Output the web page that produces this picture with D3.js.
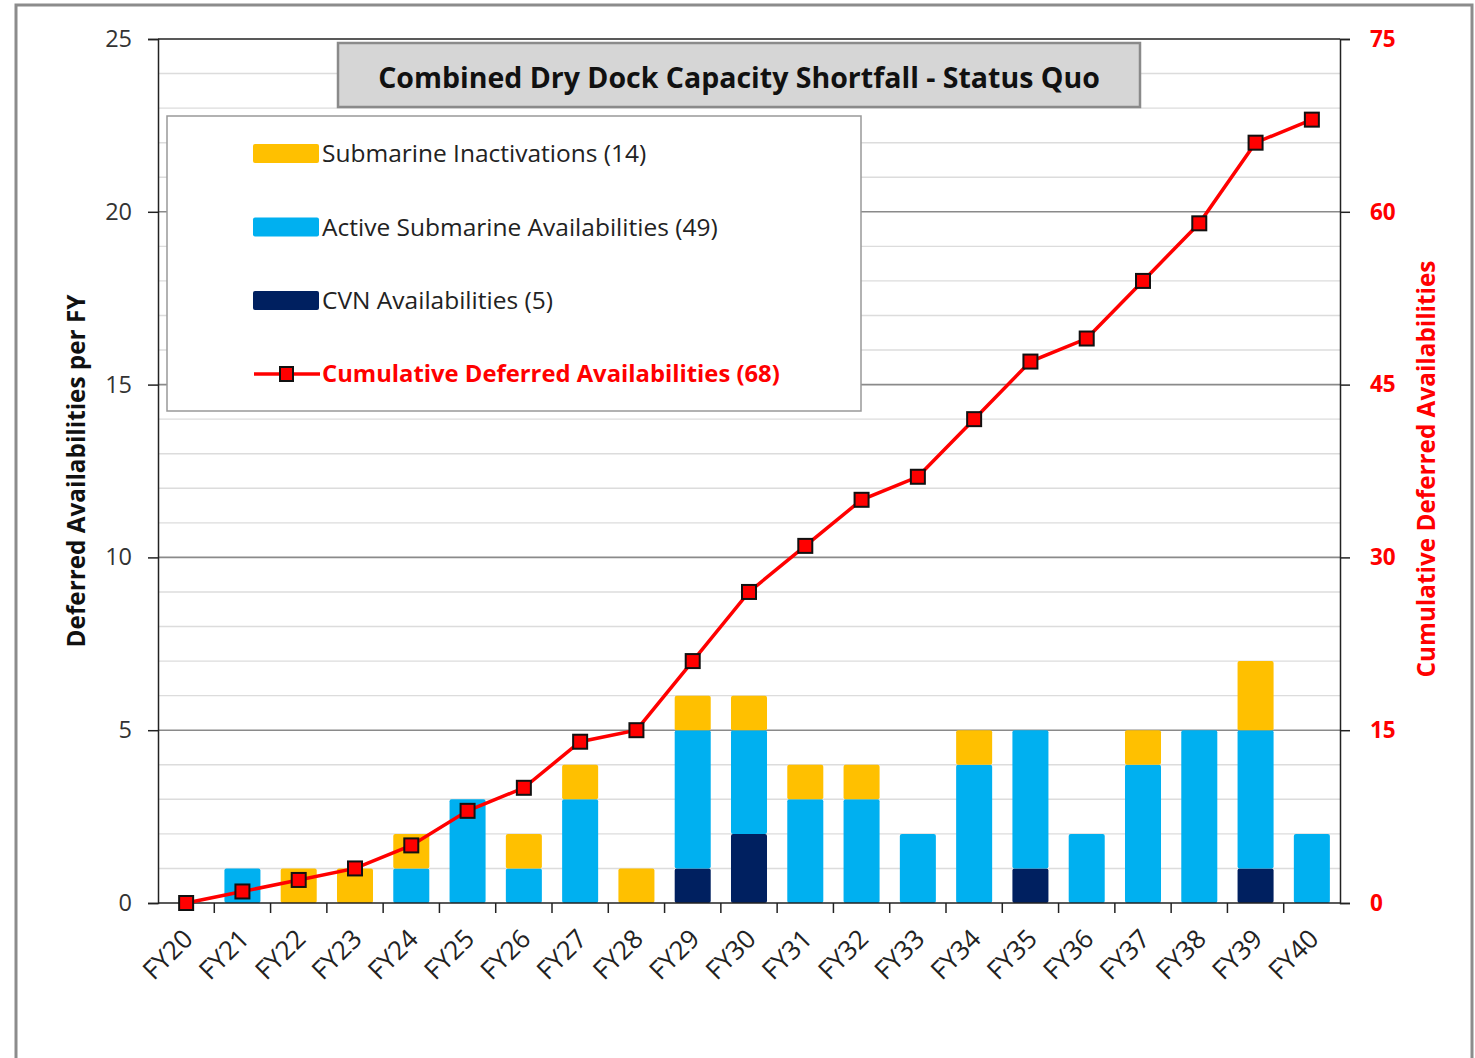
<!DOCTYPE html>
<html>
<head>
<meta charset="utf-8">
<script src="https://cdn.jsdelivr.net/npm/d3@7/dist/d3.min.js"></script>
<style>
  body { margin: 0; background: #fff; }
  svg text { font-family: "Open Sans", Lato, sans-serif; }
</style>
</head>
<body>
<svg id="chart" width="1475" height="1058"></svg>
<script>
// data
const years = ["FY20","FY21","FY22","FY23","FY24","FY25","FY26","FY27","FY28","FY29","FY30",
               "FY31","FY32","FY33","FY34","FY35","FY36","FY37","FY38","FY39","FY40"];
const cvn          = [0,0,0,0,0,0,0,0,0,1,2,0,0,0,0,1,0,0,0,1,0];
const activeSub    = [0,1,0,0,1,3,1,3,0,4,3,3,3,2,4,4,2,4,5,4,2];
const inactivation = [0,0,1,1,1,0,1,1,1,1,1,1,1,0,1,0,0,1,0,2,0];
const cumulative   = [0,1,2,3,5,8,10,14,15,21,27,31,35,37,42,47,49,54,59,66,68];
const leftTicks  = [0,5,10,15,20,25];
const rightTicks = [0,15,30,45,60,75];

const series = [
  { key: "cvn", label: "CVN Availabilities (5)", color: "#002060", values: cvn },
  { key: "active", label: "Active Submarine Availabilities (49)", color: "#00B0F0", values: activeSub },
  { key: "inact", label: "Submarine Inactivations (14)", color: "#FFC000", values: inactivation }
];

const svg = d3.select("#chart");
const m = { left: 158, right: 1340, top: 39, bottom: 903 };

// outer frame
svg.append("rect").attr("x", 16).attr("y", 5).attr("width", 1456).attr("height", 1070)
  .attr("fill", "#fff").attr("stroke", "#8c8c8c").attr("stroke-width", 3);

const x = d3.scaleBand().domain(years).range([m.left, m.right]).paddingInner(0.36).paddingOuter(0.18);
const xb = d3.scaleBand().domain(years).range([m.left, m.right]);
const y = d3.scaleLinear().domain([0, 25]).range([m.bottom, m.top]);
const y2 = d3.scaleLinear().domain([0, 75]).range([m.bottom, m.top]);

// gridlines
const grid = svg.append("g");
grid.selectAll("line").data(d3.range(1, 25)).enter().append("line")
  .attr("x1", m.left).attr("x2", m.right)
  .attr("y1", d => y(d)).attr("y2", d => y(d))
  .attr("stroke", d => d % 5 === 0 ? "#8a8a8a" : "#dcdcdc")
  .attr("stroke-width", d => d % 5 === 0 ? 1.6 : 1.4);
svg.append("line").attr("x1", m.left).attr("x2", m.right).attr("y1", m.top).attr("y2", m.top)
  .attr("stroke", "#222").attr("stroke-width", 1.5);

// stacked bars
const stacked = years.map((yr, i) => {
  let base = 0;
  return series.map(s => {
    const seg = { year: yr, y0: base, y1: base + s.values[i], color: s.color };
    base += s.values[i];
    return seg;
  }).filter(d => d.y1 > d.y0);
});
svg.append("g").selectAll("g").data(stacked).enter().append("g")
  .selectAll("rect").data(d => d).enter().append("rect")
  .attr("x", d => x(d.year)).attr("width", x.bandwidth())
  .attr("y", d => y(d.y1)).attr("height", d => y(d.y0) - y(d.y1))
  .attr("rx", 2)
  .attr("fill", d => d.color);

// axes
const leftAxis = svg.append("g").attr("transform", `translate(${m.left},0)`)
  .call(d3.axisLeft(y).tickValues(leftTicks).tickSize(10).tickPadding(16));
leftAxis.selectAll("text").attr("font-size", 23.5).attr("fill", "#333");

const rightAxis = svg.append("g").attr("transform", `translate(${m.right},0)`)
  .call(d3.axisRight(y2).tickValues(rightTicks).tickSize(10).tickPadding(20));
rightAxis.selectAll("text").attr("font-size", 22.5).attr("font-weight", "bold").attr("fill", "#ff0000");

// category labels, rotated
const cx = d => xb(d) + xb.bandwidth() / 2;
svg.append("g").selectAll("text").data(years).enter().append("text")
  .attr("transform", d => `translate(${cx(d) + 2},${m.bottom + 31}) rotate(-45)`)
  .attr("text-anchor", "end").attr("dy", "0.35em")
  .attr("font-size", 26).attr("fill", "#222")
  .text(d => d);
// category boundary ticks
svg.append("g").selectAll("line").data(years.slice(1)).enter().append("line")
  .attr("x1", d => xb(d)).attr("x2", d => xb(d))
  .attr("y1", m.bottom).attr("y2", m.bottom + 10)
  .attr("stroke", "#222").attr("stroke-width", 1.5);
svg.append("line").attr("x1", m.left).attr("x2", m.right).attr("y1", m.bottom).attr("y2", m.bottom)
  .attr("stroke", "#222").attr("stroke-width", 1.5);

svg.selectAll(".domain").attr("stroke", "#222").attr("stroke-width", 1.5);
svg.selectAll(".tick line").attr("stroke", "#222").attr("stroke-width", 1.5);

// cumulative line
svg.append("path").datum(cumulative)
  .attr("fill", "none").attr("stroke", "#ff0000").attr("stroke-width", 3.5)
  .attr("d", d3.line().x((d, i) => cx(years[i])).y(d => y2(d)));
svg.append("g").selectAll("rect").data(cumulative).enter().append("rect")
  .attr("x", (d, i) => cx(years[i]) - 7).attr("y", d => y2(d) - 7)
  .attr("width", 14).attr("height", 14)
  .attr("fill", "#ff0000").attr("stroke", "#111").attr("stroke-width", 2);

// axis titles
svg.append("text").attr("transform", "translate(85,471) rotate(-90)")
  .attr("text-anchor", "middle").attr("font-size", 24.3).attr("font-weight", "bold").attr("fill", "#111")
  .text("Deferred Availabilities per FY");
svg.append("text").attr("transform", "translate(1435,469) rotate(-90)")
  .attr("text-anchor", "middle").attr("font-size", 24.3).attr("font-weight", "bold").attr("fill", "#ff0000")
  .text("Cumulative Deferred Availabilities");

// title box
svg.append("rect").attr("x", 338).attr("y", 43).attr("width", 802).attr("height", 64)
  .attr("fill", "#d6d6d6").attr("stroke", "#8a8a8a").attr("stroke-width", 2.5);
svg.append("text").attr("x", 739).attr("y", 88).attr("text-anchor", "middle")
  .attr("font-size", 28.5).attr("font-weight", "bold").attr("fill", "#111")
  .text("Combined Dry Dock Capacity Shortfall - Status Quo");

// legend
const lg = svg.append("g");
lg.append("rect").attr("x", 167).attr("y", 116).attr("width", 694).attr("height", 295)
  .attr("fill", "#fff").attr("stroke", "#999").attr("stroke-width", 1.5);
const legendItems = [series[2], series[1], series[0]];
legendItems.forEach((s, i) => {
  const ly = 154 + i * 73.5;
  lg.append("rect").attr("x", 253).attr("y", ly - 10).attr("width", 66).attr("height", 19)
    .attr("rx", 2).attr("fill", s.color);
  lg.append("text").attr("x", 322).attr("y", ly + 8).attr("font-size", 24.5).attr("fill", "#222")
    .text(s.label);
});
const ly4 = 374;
lg.append("line").attr("x1", 254).attr("x2", 320).attr("y1", ly4).attr("y2", ly4)
  .attr("stroke", "#ff0000").attr("stroke-width", 3.5);
lg.append("rect").attr("x", 280).attr("y", ly4 - 7).attr("width", 13).attr("height", 14)
  .attr("fill", "#ff0000").attr("stroke", "#111").attr("stroke-width", 2);
lg.append("text").attr("x", 322).attr("y", ly4 + 8).attr("font-size", 23.8).attr("font-weight", "bold")
  .attr("fill", "#ff0000").text("Cumulative Deferred Availabilities (68)");
</script>
</body>
</html>
